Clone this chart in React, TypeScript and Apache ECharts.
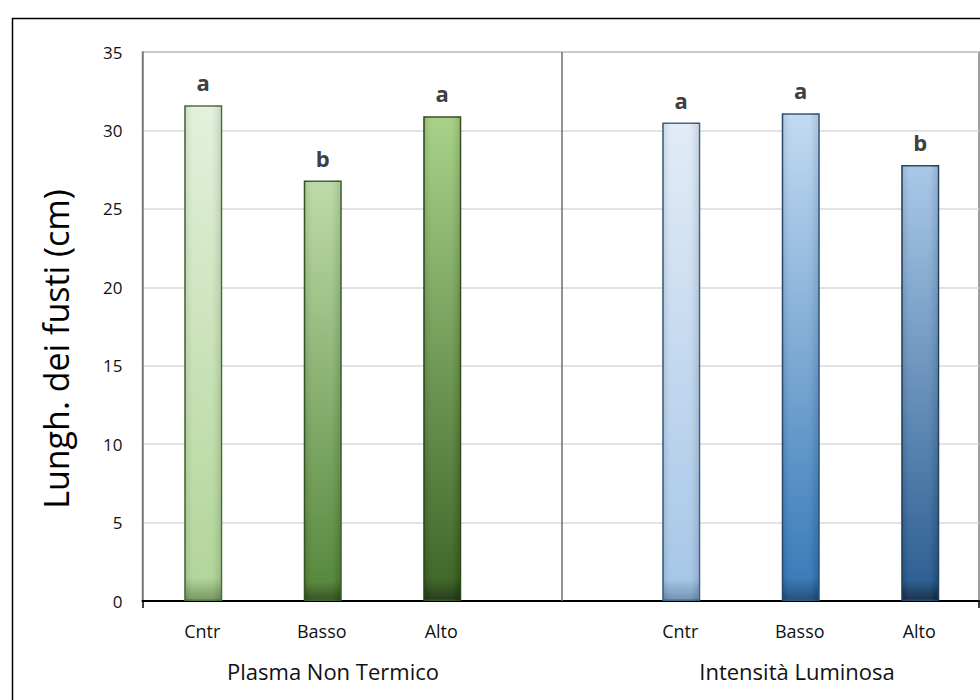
import React, { useEffect, useRef } from "react";
import * as echarts from "echarts";

// Treatments: two groups of three, separated by an empty slot
const categories = ["Cntr", "Basso", "Alto", "", "Cntr", "Basso", "Alto"];
// Stem length (cm) per treatment
const stemLength: (number | null)[] = [31.6, 26.8, 30.9, null, 30.5, 31.1, 27.8];
// Significance letters shown above each bar
const letters = ["a", "b", "a", "", "a", "a", "b"];
const groupNames = ["Plasma Non Termico", "Intensità Luminosa"];
const yTicks = { min: 0, max: 35, step: 5 };

// Fill ramps (top, bottom, base shadow) and outline for each bar
const barShades = [
  { top: "#e2f0da", bottom: "#aed394", base: "#6f9258", edge: "#4a6b38" },
  { top: "#b9d9a3", bottom: "#4f8233", base: "#2c4a1b", edge: "#3a5a28" },
  { top: "#a3cf82", bottom: "#36601d", base: "#1b3110", edge: "#2e4a1c" },
  { top: "#ffffff", bottom: "#ffffff", base: "#ffffff", edge: "#ffffff" },
  { top: "#e0ebf7", bottom: "#a3c4e6", base: "#6a8cad", edge: "#3d5f80" },
  { top: "#bfd8f0", bottom: "#2f74b5", base: "#184673", edge: "#2b4f75" },
  { top: "#a4c5e7", bottom: "#22578c", base: "#0d2640", edge: "#233f5e" },
];

const FONT = "'Open Sans', 'DejaVu Sans', sans-serif";

export default function App() {
  const ref = useRef<HTMLDivElement>(null);

  useEffect(() => {
    if (!ref.current) return;
    const chart = echarts.init(ref.current, null, { renderer: "svg" });

    const barData = stemLength.map((v, i) => ({
      value: v === null ? "-" : v,
      itemStyle: {
        color: new echarts.graphic.LinearGradient(0, 0, 0, 1, [
          { offset: 0, color: barShades[i].top },
          { offset: 0.955, color: barShades[i].bottom },
          { offset: 1, color: barShades[i].base },
        ]),
        borderColor: barShades[i].edge,
        borderWidth: 1.5,
      },
    }));

    // Darker rims on the left and right of each bar
    const rimData = stemLength.map((v) => ({
      value: v === null ? "-" : v,
      itemStyle: {
        color: new echarts.graphic.LinearGradient(0, 0, 1, 0, [
          { offset: 0, color: "rgba(0,0,0,0.10)" },
          { offset: 0.25, color: "rgba(255,255,255,0.06)" },
          { offset: 0.75, color: "rgba(255,255,255,0.06)" },
          { offset: 1, color: "rgba(0,0,0,0.10)" },
        ]),
      },
    }));

    chart.setOption({
      animation: false,
      backgroundColor: "#ffffff",
      grid: {
        left: 142.5,
        right: 1,
        top: 52,
        bottom: 99,
        show: true,
        borderColor: "#808080",
        borderWidth: 1.5,
        backgroundColor: "transparent",
      },
      xAxis: {
        type: "category",
        data: categories,
        axisLine: { lineStyle: { color: "#000000", width: 2 } },
        axisTick: {
          show: true,
          length: 7,
          interval: (i: number) => i === 0,
          lineStyle: { color: "#000000", width: 1.5 },
        },
        axisLabel: {
          margin: 21,
          fontSize: 18,
          color: "#111111",
          fontFamily: FONT,
          interval: 0,
        },
      },
      yAxis: {
        type: "value",
        min: yTicks.min,
        max: yTicks.max,
        interval: yTicks.step,
        axisLine: { show: true, lineStyle: { color: "#7a7a7a", width: 1.5 } },
        axisTick: { show: false },
        splitLine: { lineStyle: { color: "#d9d9d9", width: 1.5 } },
        axisLabel: {
          margin: 20,
          fontSize: 17,
          color: "#111111",
          fontFamily: FONT,
        },
      },
      series: [
        {
          type: "bar",
          data: barData,
          barWidth: 38,
          z: 2,
          label: {
            show: true,
            position: "top",
            distance: 12,
            fontSize: 22,
            fontWeight: "bold",
            color: "#404040",
            fontFamily: FONT,
            formatter: (p: any) => letters[p.dataIndex],
          },
          markLine: {
            silent: true,
            symbol: "none",
            label: { show: false },
            lineStyle: { color: "#6e6e6e", width: 1.5, type: "solid" },
            data: [{ xAxis: 3 }],
          },
        },
        {
          type: "bar",
          data: rimData,
          barWidth: 36,
          barGap: "-100%",
          z: 3,
          silent: true,
        },
      ],
      graphic: [
        {
          type: "rect",
          left: 10,
          top: 16,
          shape: { x: 0, y: 0, width: 1000, height: 1000 },
          style: { fill: "none", stroke: "#000000", lineWidth: 1.5 },
          silent: true,
        },
        {
          type: "text",
          x: 56,
          y: 349,
          rotation: Math.PI / 2,
          style: {
            text: "Lungh. dei fusti (cm)",
            fontSize: 34,
            fontFamily: FONT,
            fill: "#000000",
            align: "center",
            verticalAlign: "middle",
          },
        },
        {
          type: "text",
          x: 333,
          y: 671,
          style: {
            text: groupNames[0],
            fontSize: 22,
            fontFamily: FONT,
            fill: "#111111",
            align: "center",
            verticalAlign: "middle",
          },
        },
        {
          type: "text",
          x: 797,
          y: 671,
          style: {
            text: groupNames[1],
            fontSize: 22,
            fontFamily: FONT,
            fill: "#111111",
            align: "center",
            verticalAlign: "middle",
          },
        },
      ],
    });

    return () => chart.dispose();
  }, []);

  return (
    <div
      ref={ref}
      style={{ position: "absolute", left: 0, top: 0, width: 980, height: 700 }}
    />
  );
}
